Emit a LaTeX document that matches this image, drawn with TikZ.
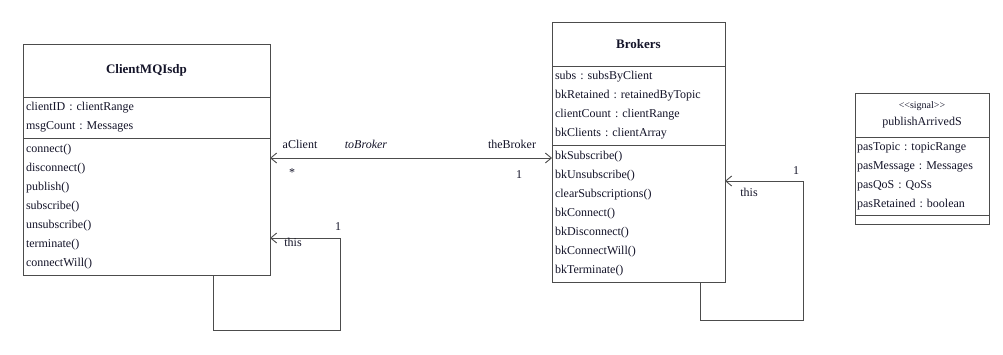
\documentclass[tikz,border=0pt]{standalone}
\usepackage{fontspec}
\setmainfont{Liberation Serif}
\usetikzlibrary{arrows.meta,positioning}
\definecolor{umlline}{gray}{0.30}
\definecolor{umltext}{rgb}{0.08,0.08,0.16}
\frenchspacing

\begin{document}
\begin{tikzpicture}[x=1pt,y=-1pt,
      umlhead/.style={draw=umlline, line width=0.9pt, anchor=north west,
                  inner sep=0pt, outer sep=0pt, align=center,
                  font=\fontsize{12}{17}\selectfont, text=umltext},
      umlpart/.style={draw=umlline, line width=0.9pt, inner xsep=3pt,
                  inner ysep=0pt, outer sep=0pt, align=left,
                  font=\fontsize{12}{19}\selectfont, text=umltext},
      assoc/.style={draw=umlline, line width=0.9pt},
      openhead/.style={-{Straight Barb[length=6pt,width=10pt]}},
      rolelbl/.style={inner sep=0pt, font=\fontsize{12}{14}\selectfont, text=umltext}
  ]
    \useasboundingbox[fill=white] (0,0) rectangle (1003,354);
    % ClientMQIsdp
    \node[umlhead, minimum width=247pt, minimum height=53pt] (chead) at (23,44)
          {\fontsize{13}{17}\selectfont\bfseries ClientMQIsdp};
    \node[umlpart, below=0pt of chead, text width=241pt, minimum height=41pt] (cattr)
          {clientID : clientRange\\ msgCount : Messages};
    \node[umlpart, below=0pt of cattr, text width=241pt, minimum height=137pt] (cmeth)
          {connect()\\ disconnect()\\ publish()\\ subscribe()\\ unsubscribe()\\ terminate()\\ connectWill()};
    % Brokers
    \node[umlhead, minimum width=173pt, minimum height=44pt] (bhead) at (552,22)
          {\fontsize{13}{17}\selectfont\bfseries Brokers};
    \node[umlpart, below=0pt of bhead, text width=167pt, minimum height=79pt] (battr)
          {subs : subsByClient\\ bkRetained : retainedByTopic\\ clientCount : clientRange\\ bkClients : clientArray};
    \node[umlpart, below=0pt of battr, text width=167pt, minimum height=137pt] (bmeth)
          {bkSubscribe()\\ bkUnsubscribe()\\ clearSubscriptions()\\ bkConnect()\\ bkDisconnect()\\ bkConnectWill()\\ bkTerminate()};
    % signal
    \node[umlhead, minimum width=134pt, minimum height=44pt] (shead) at (855,93)
          {{\fontsize{10}{12}\selectfont <\kern0pt<signal>\kern0pt>}\\ publishArrivedS};
    \node[umlpart, inner xsep=2pt, below=0pt of shead, text width=130pt, minimum height=78pt] (sattr)
          {pasTopic : topicRange\\ pasMessage : Messages\\ pasQoS : QoSs\\ pasRetained : boolean};
    \node[umlpart, inner xsep=2pt, below=0pt of sattr, text width=130pt, minimum height=9pt] (sops) {};

    % association
    \coordinate (assocy) at (0,158);
    \draw[assoc, {Straight Barb[length=6pt,width=10pt]}-{Straight Barb[length=6pt,width=10pt]}]
          (cmeth.east |- assocy) -- (bmeth.west |- assocy);
    \node[rolelbl] (aclient) at (300,144) {aClient};
    \node[rolelbl] (tobroker) at (366,144) {\itshape toBroker};
    \node[rolelbl] (thebroker) at (512,144) {theBroker};
    \node[rolelbl] (cmult) at (292,173) {*};
    \node[rolelbl] (bmult) at (519,175) {1};

    % self associations
    \coordinate (cloopA) at (213,330);
    \coordinate (cloopB) at (340,238);
    \draw[assoc, openhead] (cmeth.south -| cloopA) -- (cloopA) -| (cloopB) -- (cmeth.east |- cloopB);
    \node[rolelbl] (cone) at (338,227) {1};
    \node[rolelbl] (cthis) at (293,242) {this};

    \coordinate (bloopA) at (700,320);
    \coordinate (bloopB) at (803,181);
    \draw[assoc, openhead] (bmeth.south -| bloopA) -- (bloopA) -| (bloopB) -- (bmeth.east |- bloopB);
    \node[rolelbl] (bone) at (796,171) {1};
    \node[rolelbl] (bthis) at (749,192) {this};
  \end{tikzpicture}
\end{document}
